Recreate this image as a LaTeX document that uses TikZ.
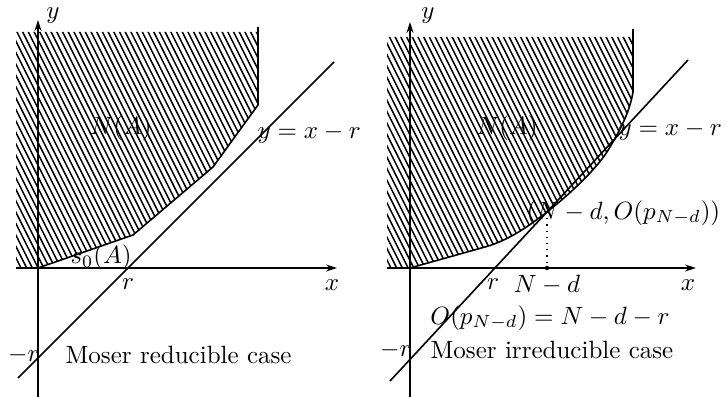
\documentclass[tikz,border=0pt]{standalone}
\usetikzlibrary{arrows.meta}
\begin{document}
\begin{tikzpicture}[x=0.4pt,y=-0.4pt,
  lbl/.style={inner sep=0pt},
  axis/.style={line width=0.48pt,-{Stealth[length=4.4pt,width=2.8pt]}},
  bound/.style={line width=0.64pt},
  hatch/.style={line width=0.6pt},
  lineyx/.style={line width=0.64pt}]
\useasboundingbox (0,0) rectangle (727,397);
% ---------------- left panel ----------------
\coordinate (LO) at (38,268);
\begin{scope}
\clip (16,268) -- (LO) -- (133,235) -- (213,167) -- (258,105) -- (258,32) -- (16,32) -- cycle;
\foreach \i in {-160,-154.3,...,280} \draw[hatch] (\i,20) -- (\i+130,280);
\end{scope}
\draw[bound] (16,268) -- (LO) -- (133,235) -- (213,167) -- (258,105) -- (258,27);
\coordinate (LXs) at (16,268);
\coordinate (LXe) at (337,268);
\coordinate (LYs) at (38,397);
\coordinate (LYe) at (38,20);
\draw[axis] (LXs) -- (LXe);
\draw[axis] (LYs) -- (LYe);
\coordinate (LLs) at (18,378);
\coordinate (LLe) at (334,62);
\draw[lineyx] (LLs) -- (LLe);
\node[lbl] (ly) at (53,16) {$y$};
\node[lbl] (lx) at (332,285) {$x$};
\node[lbl] (lr) at (128,284) {$r$};
\node[lbl] (lNA) at (121,128) {$N(A)$};
\node[lbl,anchor=west] (leq) at (257,134) {$y=x-r$};
\node[lbl,anchor=base west] (ls0) at (70,264) {$s_0(A)$};
\node[lbl,anchor=east] (lmr) at (40,355) {$-r$};
\node[lbl,anchor=west] (lcase) at (65,355) {Moser reducible case};
% ---------------- right panel ----------------
\coordinate (RO) at (410,268);
\coordinate (T) at (547,212);
\begin{scope}
\clip (387,268) -- (RO) -- (485,247) .. controls (510,240) and (530,225) .. (T) .. controls (575,190) and (600,165) .. (610,147) .. controls (622,127) and (630,110) .. (633,92) -- (633,37) -- (387,37) -- cycle;
\foreach \i in {210,215.7,...,660} \draw[hatch] (\i,20) -- (\i+130,280);
\end{scope}
\draw[bound] (387,268) -- (RO) -- (485,247) .. controls (510,240) and (530,225) .. (T) .. controls (575,190) and (600,165) .. (610,147) .. controls (622,127) and (630,110) .. (633,92) -- (633,29);
\coordinate (RXs) at (387,268);
\coordinate (RXe) at (696,268);
\coordinate (RYs) at (410,397);
\coordinate (RYe) at (410,22);
\coordinate (TX) at (547,268);
\draw[axis] (RXs) -- (RXe);
\draw[axis] (RYs) -- (RYe);
\coordinate (RLs) at (390,381);
\coordinate (RLe) at (688,60);
\draw[lineyx] (RLs) -- (RLe);
\draw[line width=0.48pt,dotted] (T) -- (TX);
\fill (TX) circle (0.9pt);
\node[lbl] (ry) at (428,16) {$y$};
\node[lbl] (rx) at (688,285) {$x$};
\node[lbl] (rr) at (493,284) {$r$};
\node[lbl] (rNd) at (547,285) {$N-d$};
\node[lbl] (rNA) at (507,128) {$N(A)$};
\node[lbl,anchor=west] (req) at (618,131) {$y=x-r$};
\node[lbl,anchor=west] (rpt) at (526,213) {$(N-d,O(p_{N-d}))$};
\node[lbl] (rop) at (550,318) {$O(p_{N-d})=N-d-r$};
\node[lbl,anchor=east] (rmr) at (412,350) {$-r$};
\node[lbl,anchor=west] (rcase) at (430,350) {Moser irreducible case};
\end{tikzpicture}
\end{document}
